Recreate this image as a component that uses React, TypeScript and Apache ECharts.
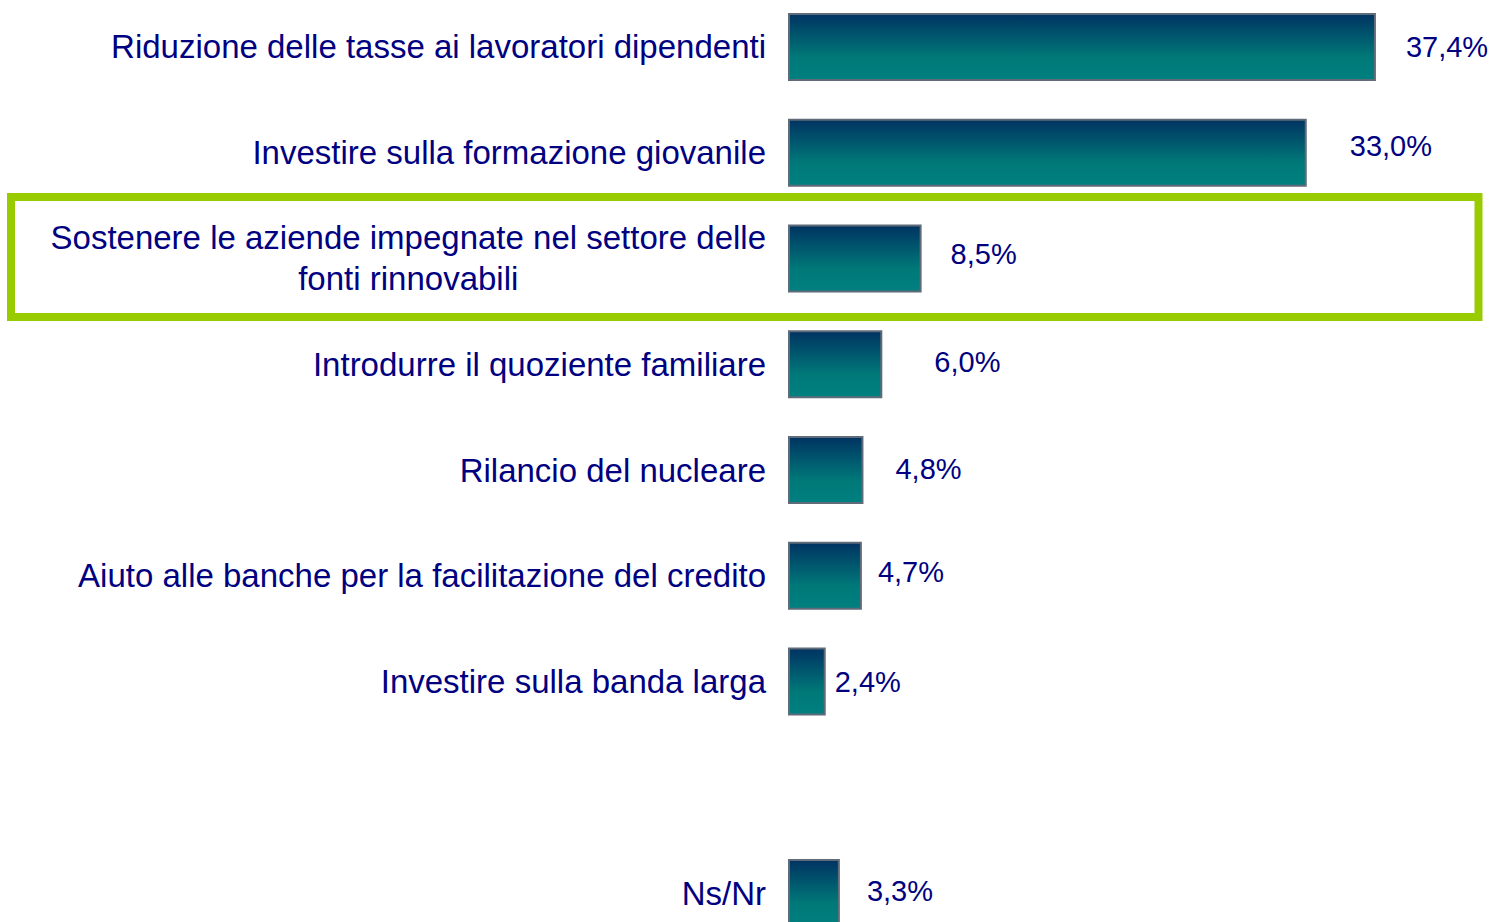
import React, { useEffect, useRef } from "react";
import * as echarts from "echarts";

const categories: string[] = [
  "Riduzione delle tasse ai lavoratori dipendenti",
  "Investire sulla formazione giovanile",
  "Sostenere le aziende impegnate nel settore delle\nfonti rinnovabili",
  "Introdurre il quoziente familiare",
  "Rilancio del nucleare",
  "Aiuto alle banche per la facilitazione del credito",
  "Investire sulla banda larga",
  "",
  "Ns/Nr",
];

const values: (number | null)[] = [37.4, 33.0, 8.5, 6.0, 4.8, 4.7, 2.4, null, 3.3];

// label nudges [dx, dy] (styling only)
const labelNudges: [number, number][] = [
  [30, 0], [43, -7], [29, -4], [52, -2], [32, -1], [16, -4], [9, 0], [0, 0], [27, -2],
];

const TEXT = "#000080";
const FONT = "'Liberation Sans', Arial, sans-serif";
const TOP_SHIFT = 6;

export default function App() {
  const ref = useRef<HTMLDivElement>(null);
  useEffect(() => {
    if (!ref.current) return;
    const chart = echarts.init(ref.current, undefined, { renderer: "svg" });
    const gradient = new echarts.graphic.LinearGradient(0, 0, 0, 1, [
      { offset: 0, color: "#003362" },
      { offset: 0.65, color: "#007878" },
      { offset: 1, color: "#008080" },
    ]);
    chart.setOption({
      animation: false,
      backgroundColor: "#ffffff",
      grid: { left: 788, top: 0, width: 786, height: 952, containLabel: false },
      xAxis: {
        type: "value",
        min: 0,
        max: 50,
        show: false,
        splitLine: { show: false },
      },
      yAxis: {
        type: "category",
        inverse: true,
        data: categories,
        axisLine: { show: false },
        axisTick: { show: false },
        splitLine: { show: false },
        axisLabel: {
          margin: 22,
          color: TEXT,
          fontSize: 33,
          fontFamily: FONT,
          lineHeight: 41,
          formatter: (v: string) => {
            if (v.indexOf("\n") >= 0) {
              return v
                .split("\n")
                .map((l) => `{c|${l}}`)
                .join("\n");
            }
            return v;
          },
          rich: {
            c: {
              align: "center",
              color: TEXT,
              fontSize: 33,
              fontFamily: FONT,
              lineHeight: 41,
            },
          },
        },
      },
      series: [
        {
          type: "bar",
          barWidth: 68,
          data: values.map((v, i) => ({
            value: v,
            label: {
              offset: [labelNudges[i][0], labelNudges[i][1]],
            },
          })),
          itemStyle: {
            color: gradient,
            borderColor: "#5f6b78",
            borderWidth: 2,
          },
          label: {
            show: true,
            position: "right",
            distance: 0,
            color: TEXT,
            fontSize: 29,
            fontFamily: FONT,
            formatter: (p: any) =>
              p.value == null ? "" : `${Number(p.value).toFixed(1).replace(".", ",")}%`,
          },
        },
      ],
      graphic: [
        {
          type: "rect",
          shape: { x: 11, y: 197 + TOP_SHIFT, width: 1467.5, height: 120 },
          style: { fill: "none", stroke: "#99cc00", lineWidth: 8 },
          z: 10,
        },
      ],
    });
    return () => chart.dispose();
  }, []);
  return (
    <div
      ref={ref}
      style={{ position: "fixed", left: 0, top: -TOP_SHIFT, width: 1600, height: 952 }}
    />
  );
}
